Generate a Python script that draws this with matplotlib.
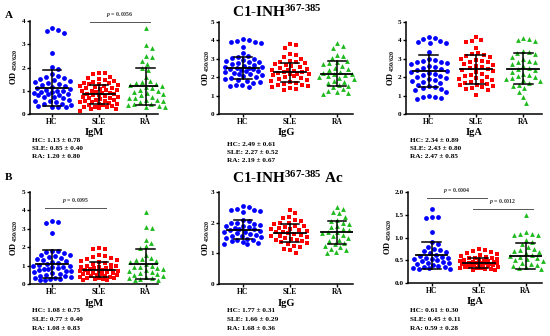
import matplotlib

matplotlib.use("Agg")

import numpy as np
import matplotlib.pyplot as plt

plt.rcParams["font.family"] = "Liberation Serif"
plt.rcParams["font.weight"] = "bold"
plt.rcParams["mathtext.fontset"] = "custom"
plt.rcParams["mathtext.rm"] = "Liberation Serif:bold"
plt.rcParams["mathtext.it"] = "Liberation Serif:italic:bold"
plt.rcParams["mathtext.bf"] = "Liberation Serif:bold"

W, H = 550, 336

groups = ["HC", "SLE", "RA"]
colors = ["#0000FF", "#FF0000", "#1DB91D"]
markers = ["o", "s", "^"]

# ---- panel A : C1-INH 367-385 ----
a_igm_hc = [3.7, 3.62, 3.58, 3.48, 2.63, 2.02, 1.95, 1.7, 1.65, 1.6, 1.55, 1.5, 1.45, 1.42,
            1.38, 1.35, 1.3, 1.25, 1.2, 1.15, 1.1, 1.08, 1.05, 1.0, 0.98, 0.95, 0.93, 0.9,
            0.88, 0.85, 0.82, 0.8, 0.75, 0.72, 0.68, 0.62, 0.58, 0.55, 0.5, 0.45, 0.42,
            0.38, 0.35, 0.32, 0.3, 0.28]
a_igm_sle = [1.78, 1.75, 1.7, 1.6, 1.55, 1.5, 1.45, 1.42, 1.38, 1.35, 1.32, 1.3, 1.28, 1.25,
             1.22, 1.2, 1.15, 1.12, 1.1, 1.08, 1.05, 1.02, 1.0, 0.98, 0.95, 0.92, 0.9, 0.88,
             0.85, 0.83, 0.8, 0.78, 0.75, 0.72, 0.7, 0.68, 0.65, 0.62, 0.6, 0.58, 0.55, 0.52,
             0.5, 0.48, 0.45, 0.42, 0.4, 0.38, 0.35, 0.32, 0.3, 0.28, 0.25, 0.22, 0.2, 0.15]
a_igm_ra = [3.7, 2.95, 2.85, 2.5, 2.45, 2.3, 2.15, 2.0, 1.9, 1.6, 1.4, 1.38, 1.35, 1.3, 1.25,
            1.2, 1.15, 1.1, 1.05, 1.0, 0.95, 0.9, 0.85, 0.8, 0.75, 0.7, 0.68, 0.62, 0.6, 0.55,
            0.5, 0.45, 0.42, 0.4, 0.35, 0.3, 0.28]

a_igg_hc = [4.05, 4.0, 3.95, 3.92, 3.9, 3.88, 3.65, 3.3, 3.15, 3.1, 3.05, 3.0, 2.95, 2.9,
            2.85, 2.8, 2.75, 2.7, 2.65, 2.6, 2.58, 2.55, 2.5, 2.48, 2.45, 2.42, 2.4, 2.35,
            2.32, 2.3, 2.25, 2.2, 2.15, 2.1, 2.05, 2.0, 1.95, 1.9, 1.85, 1.8, 1.75, 1.7, 1.6,
            1.55, 1.5, 1.48]
a_igg_sle = [3.8, 3.75, 3.6, 3.25, 3.2, 3.1, 3.0, 2.9, 2.85, 2.8, 2.75, 2.7, 2.65, 2.6, 2.55,
             2.5, 2.45, 2.4, 2.38, 2.35, 2.3, 2.28, 2.25, 2.2, 2.18, 2.15, 2.1, 2.05, 2.0,
             1.95, 1.9, 1.85, 1.8, 1.75, 1.7, 1.65, 1.6, 1.55, 1.5, 1.45, 1.4, 1.35, 1.3]
a_igg_ra = [3.85, 3.7, 3.6, 3.2, 3.15, 3.05, 2.9, 2.8, 2.75, 2.7, 2.6, 2.5, 2.45, 2.4, 2.3,
            2.25, 2.2, 2.15, 2.1, 2.05, 2.0, 1.95, 1.9, 1.8, 1.75, 1.7, 1.6, 1.5, 1.45, 1.35,
            1.25, 1.2, 1.15, 1.1]

a_iga_hc = [4.2, 4.15, 4.05, 3.95, 3.9, 3.88, 3.85, 3.35, 3.0, 2.95, 2.9, 2.85, 2.8, 2.75,
            2.7, 2.6, 2.55, 2.5, 2.45, 2.4, 2.35, 2.3, 2.25, 2.2, 2.1, 2.05, 2.0, 1.95, 1.9,
            1.85, 1.8, 1.75, 1.7, 1.6, 1.5, 1.45, 1.4, 1.35, 1.3, 1.2, 1.0, 0.95, 0.9, 0.85, 0.8]
a_iga_sle = [4.2, 4.0, 3.95, 3.9, 3.6, 3.3, 3.25, 3.2, 3.15, 3.1, 3.0, 2.95, 2.9, 2.85, 2.8,
             2.7, 2.65, 2.6, 2.55, 2.5, 2.45, 2.4, 2.35, 2.3, 2.2, 2.1, 2.05, 2.0, 1.95, 1.9,
             1.85, 1.8, 1.75, 1.7, 1.65, 1.6, 1.55, 1.5, 1.45, 1.4, 1.35, 1.3, 1.05]
a_iga_ra = [4.15, 4.1, 4.0, 3.95, 3.4, 3.35, 3.3, 3.25, 3.1, 3.0, 2.9, 2.85, 2.8, 2.7, 2.6,
            2.5, 2.45, 2.4, 2.3, 2.2, 2.1, 2.05, 2.0, 1.95, 1.9, 1.85, 1.8, 1.7, 1.6, 1.5,
            1.4, 1.2, 0.9, 0.6]

# ---- panel B : C1-INH 367-385 Ac ----
b_igm_hc = [3.42, 3.35, 3.3, 2.75, 1.8, 1.78, 1.75, 1.7, 1.6, 1.55, 1.5, 1.45, 1.4, 1.35,
            1.3, 1.25, 1.2, 1.15, 1.1, 1.05, 1.0, 0.98, 0.95, 0.9, 0.85, 0.82, 0.8, 0.75,
            0.72, 0.7, 0.65, 0.6, 0.55, 0.5, 0.45, 0.42, 0.4, 0.35, 0.3, 0.28, 0.25, 0.22, 0.2]
b_igm_sle = [1.95, 1.9, 1.88, 1.55, 1.5, 1.45, 1.4, 1.35, 1.3, 1.25, 1.2, 1.15, 1.1, 1.05,
             1.0, 0.98, 0.95, 0.9, 0.88, 0.85, 0.82, 0.8, 0.78, 0.75, 0.72, 0.7, 0.68, 0.65,
             0.62, 0.6, 0.58, 0.55, 0.52, 0.5, 0.48, 0.45, 0.42, 0.4, 0.38, 0.35, 0.32, 0.3,
             0.28, 0.25, 0.22, 0.2]
b_igm_ra = [3.9, 3.1, 3.05, 2.4, 2.25, 2.05, 1.95, 1.6, 1.4, 1.35, 1.3, 1.25, 1.2, 1.1, 1.0,
            0.95, 0.9, 0.85, 0.8, 0.75, 0.7, 0.65, 0.6, 0.55, 0.5, 0.45, 0.4, 0.35, 0.3, 0.25,
            0.22, 0.2]

b_igg_hc = [2.55, 2.5, 2.45, 2.42, 2.4, 2.38, 2.35, 2.1, 2.05, 2.0, 1.98, 1.95, 1.92, 1.9,
            1.88, 1.85, 1.82, 1.8, 1.78, 1.75, 1.72, 1.7, 1.68, 1.65, 1.62, 1.6, 1.58, 1.55,
            1.52, 1.5, 1.48, 1.45, 1.42, 1.4, 1.38, 1.35, 1.32, 1.3]
b_igg_sle = [2.42, 2.3, 2.2, 2.15, 2.1, 2.05, 2.0, 1.98, 1.95, 1.9, 1.88, 1.85, 1.82, 1.8,
             1.78, 1.75, 1.72, 1.7, 1.68, 1.65, 1.62, 1.6, 1.58, 1.55, 1.52, 1.5, 1.48, 1.45,
             1.42, 1.4, 1.38, 1.35, 1.3, 1.25, 1.2, 1.15, 1.1, 1.0]
b_igg_ra = [2.5, 2.45, 2.35, 2.3, 2.2, 2.1, 2.05, 2.0, 1.95, 1.9, 1.85, 1.8, 1.75, 1.7, 1.68,
            1.65, 1.6, 1.55, 1.5, 1.45, 1.4, 1.35, 1.3, 1.25, 1.2, 1.15, 1.1, 1.05, 1.0]

b_iga_hc = [1.63, 1.45, 1.44, 1.43, 1.12, 0.9, 0.85, 0.8, 0.75, 0.72, 0.7, 0.68, 0.65, 0.62,
            0.6, 0.58, 0.56, 0.55, 0.53, 0.52, 0.5, 0.48, 0.47, 0.45, 0.44, 0.42, 0.4, 0.38,
            0.36, 0.35, 0.33, 0.32, 0.31, 0.3]
b_iga_sle = [0.75, 0.72, 0.7, 0.68, 0.66, 0.64, 0.62, 0.6, 0.58, 0.56, 0.55, 0.54, 0.52, 0.5,
             0.5, 0.49, 0.48, 0.48, 0.47, 0.46, 0.45, 0.45, 0.44, 0.44, 0.43, 0.42, 0.42,
             0.41, 0.4, 0.4, 0.39, 0.38, 0.38, 0.37, 0.36, 0.36, 0.35, 0.34, 0.33, 0.32,
             0.31, 0.3, 0.29, 0.28]
b_iga_ra = [1.5, 1.12, 1.08, 1.07, 1.06, 1.05, 0.95, 0.9, 0.85, 0.8, 0.75, 0.72, 0.7, 0.68,
            0.65, 0.62, 0.6, 0.58, 0.55, 0.52, 0.5, 0.48, 0.45, 0.42, 0.4, 0.38, 0.35, 0.33, 0.3]

# mean and SD as printed under each panel
a_means = [[1.13, 0.85, 1.20], [2.49, 2.27, 2.19], [2.34, 2.43, 2.47]]
a_sds = [[0.78, 0.40, 0.80], [0.61, 0.52, 0.67], [0.89, 0.80, 0.85]]
b_means = [[1.08, 0.77, 1.08], [1.77, 1.66, 1.68], [0.61, 0.45, 0.59]]
b_sds = [[0.75, 0.40, 0.83], [0.31, 0.29, 0.36], [0.30, 0.11, 0.28]]

isotypes = ["IgM", "IgG", "IgA"]


def fig_rect(x0, x1, y_bottom, y_top):
    return [x0 / W, 1 - y_bottom / H, (x1 - x0) / W, (y_bottom - y_top) / H]


def swarm_offsets(values, ypx, diam=6.0, half_max=19.0):
    # simple beeswarm in pixel units; shrink spacing when the swarm gets too wide
    values = np.asarray(values)
    order = np.argsort(-values)
    placed = []
    offsets = np.zeros(len(values))
    cands = np.arange(0, half_max + 0.01, 0.5)
    cands = np.concatenate([[0], np.ravel(np.column_stack([cands[1:], -cands[1:]]))])
    for i in order:
        y = values[i] * ypx
        d = diam
        chosen = None
        while chosen is None:
            for x in cands:
                if all((x - px) ** 2 + (y - py) ** 2 >= d * d for px, py in placed):
                    chosen = x
                    break
            d *= 0.85
        placed.append((chosen, y))
        offsets[i] = chosen
    return offsets


def draw_panel(rect_px, xlim, ylim, yticks, data, means, sds, xlabel, stats_xy, ylab_x,
               fmt="%d", brackets=()):
    x0, x1, yb, yt = rect_px
    ax = fig.add_axes(fig_rect(x0, x1, yb, yt))
    xpx = (x1 - x0) / (xlim[1] - xlim[0])
    ypx = (yb - yt) / (ylim[1] - ylim[0])
    for g, vals in enumerate(data):
        vals = np.array(vals)
        offs = swarm_offsets(vals, ypx) / xpx
        ax.scatter(g + offs, vals, s=12, marker=markers[g], color=colors[g],
                   linewidths=0, zorder=2, clip_on=False)
        m, s = means[g], sds[g]
        ax.plot([g - 0.34, g + 0.34], [m, m], color="black", lw=1.3, zorder=3)
        ax.plot([g, g], [m - s, m + s], color="black", lw=1.1, zorder=3)
        for yy in (m - s, m + s):
            ax.plot([g - 0.2, g + 0.2], [yy, yy], color="black", lw=1.1, zorder=3)
    for ga, gb, ypos, label in brackets:
        ax.plot([ga, gb], [ypos, ypos], color="#555555", lw=0.7, clip_on=False)
        ax.text((ga + gb) / 2, ypos + 0.03 * (ylim[1] - ylim[0]),
                r"$\it{p}$ = " + label, ha="center", va="bottom", fontsize=4.2,
                color="#333333")
    ax.set_xlim(*xlim)
    ax.set_ylim(*ylim)
    ax.set_yticks(yticks)
    ax.set_yticklabels([fmt % t for t in yticks], fontsize=5.2, fontweight="bold")
    ax.set_xticks(range(3))
    ax.set_xticklabels(groups, fontsize=5.5, fontweight="bold")
    for side in ("top", "right"):
        ax.spines[side].set_visible(False)
    for side in ("left", "bottom"):
        ax.spines[side].set_linewidth(1.1)
    ax.tick_params(length=2.2, width=1.0, pad=1.0)
    ax.patch.set_alpha(0)

    cx = (x0 + x1) / 2
    fig.text(cx / W, 1 - (yb + 19) / H, xlabel, ha="center", va="center",
             fontsize=7.5, fontweight="bold")
    fig.text(ylab_x / W, 1 - (yb + yt) / 2 / H, r"OD $_{450/620}$", rotation=90,
             ha="center", va="center", fontsize=6)
    sx, sy, dy = stats_xy
    for g in range(3):
        fig.text(sx / W, 1 - (sy + g * dy) / H,
                 "%s: %.2f \u00b1 %.2f" % (groups[g], means[g], sds[g]),
                 ha="left", va="center", fontsize=5.2, fontweight="bold")
    return ax


fig = plt.figure(figsize=(W / 100, H / 100), dpi=100)

a_data = [[a_igm_hc, a_igm_sle, a_igm_ra], [a_igg_hc, a_igg_sle, a_igg_ra],
          [a_iga_hc, a_iga_sle, a_iga_ra]]
b_data = [[b_igm_hc, b_igm_sle, b_igm_ra], [b_igg_hc, b_igg_sle, b_igg_ra],
          [b_iga_hc, b_iga_sle, b_iga_ra]]

draw_panel((30, 158, 114, 21), (-0.47, 2.26), (0, 4), [0, 1, 2, 3, 4], a_data[0],
           a_means[0], a_sds[0], "IgM", (32, 140, 8), 14,
           brackets=[(0.8, 2.08, 3.95, "0.0056")])
draw_panel((219, 353, 114, 22), (-0.51, 2.34), (0, 5), [0, 1, 2, 3, 4, 5], a_data[1],
           a_means[1], a_sds[1], "IgG", (227, 145, 7.5), 206)
draw_panel((406, 542, 114, 22), (-0.48, 2.4), (0, 5), [0, 1, 2, 3, 4, 5], a_data[2],
           a_means[2], a_sds[2], "IgA", (410, 140, 8), 391)

draw_panel((30, 158, 284, 192), (-0.47, 2.26), (0, 5), [0, 1, 2, 3, 4, 5], b_data[0],
           b_means[0], b_sds[0], "IgM", (32, 311, 8.5), 14,
           brackets=[(-0.15, 1.15, 4.13, "0.0095")])
draw_panel((219, 353, 284, 192), (-0.51, 2.34), (0, 3), [0, 1, 2, 3], b_data[1],
           b_means[1], b_sds[1], "IgG", (227, 311, 8.5), 206)
draw_panel((408, 542, 283, 192), (-0.5, 2.35), (0, 2), [0, 0.5, 1.0, 1.5, 2.0], b_data[2],
           b_means[2], b_sds[2], "IgA", (410, 311, 8.5), 388, fmt="%.1f",
           brackets=[(-0.1, 1.18, 1.87, "0.0004"), (0.88, 2.15, 1.63, "0.0012")])

fig.text(277 / W, 1 - 12 / H, r"C1-INH$^{367\text{-}385}$", ha="center", va="center",
         fontsize=11, fontweight="bold")
fig.text(288 / W, 1 - 178 / H, r"C1-INH$^{367\text{-}385}$ Ac", ha="center", va="center",
         fontsize=11, fontweight="bold")
fig.text(5 / W, 1 - 15 / H, "A", ha="left", va="center", fontsize=8, fontweight="bold")
fig.text(5 / W, 1 - 178 / H, "B", ha="left", va="center", fontsize=8, fontweight="bold")

fig.savefig("out.png", dpi=100)
